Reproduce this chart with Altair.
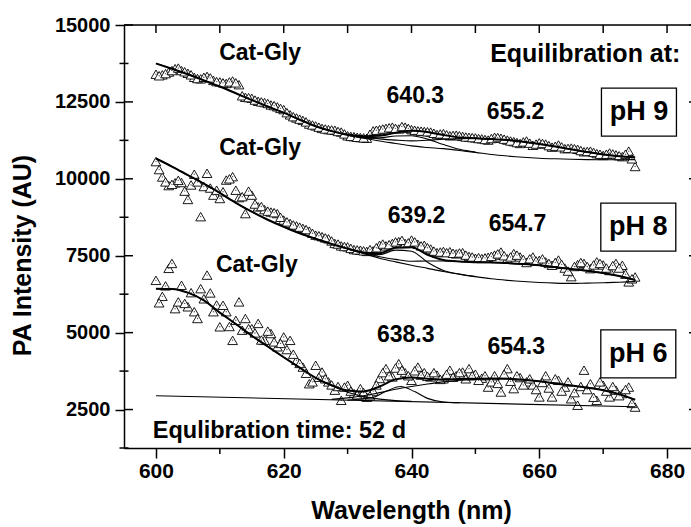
import altair as alt
import pandas as pd

# ---------------- data ----------------
WL = list(range(600, 676))                 # whole-nm points
WL_H = [w + 0.5 for w in range(600, 675)]  # half-nm points

PH9 = [13400, 13380, 13470, 13580, 13520, 13430, 13300, 13250, 13330, 13200,
       13150, 13100, 13180, 13060, 12650, 12620, 12520, 12480, 12400, 12340,
       12250, 12080, 11980, 11900, 11780, 11720, 11640, 11600, 11580, 11520,
       11400, 11370, 11340, 11320, 11560, 11600, 11640, 11680, 11620, 11680,
       11600, 11560, 11540, 11520, 11440, 11470, 11400, 11420, 11380, 11350,
       11330, 11300, 11260, 11350, 11320, 11260, 11210, 11150, 11230, 11090,
       11170, 11130, 11030, 11100, 10980, 11000, 10960, 10880, 10900, 10820,
       10760, 10840, 10780, 10720, 10900, 10400]
PH9_H = [13350, 13420, 13520, 13600, 13480, 13380, 13260, 13300, 13280, 13160,
         13120, 13150, 13120, 12700, 12640, 12560, 12500, 12450, 12380, 12290,
         12150, 12020, 11940, 11850, 11750, 11680, 11620, 11590, 11540, 11460,
         11380, 11350, 11330, 11450, 11580, 11620, 11660, 11640, 11700, 11640,
         11580, 11550, 11530, 11480, 11460, 11430, 11410, 11400, 11360, 11340,
         11310, 11280, 11310, 11340, 11290, 11230, 11180, 11200, 11160, 11130,
         11150, 11080, 11060, 11040, 10990, 10980, 10920, 10890, 10860, 10800,
         10800, 10810, 10750, 10800, 10650]

PH8 = [10560, 10060, 9780, 9870, 9880, 9330, 10150, 8770, 10180, 9470,
       9360, 9960, 10070, 9390, 8870, 9470, 9090, 9000, 8920, 8870,
       8660, 8550, 8470, 8390, 8300, 8170, 8120, 8050, 7900, 7820,
       7790, 7700, 7680, 7640, 7660, 7840, 7820, 7900, 7960, 7900,
       8010, 7870, 7840, 7720, 7600, 7640, 7630, 7560, 7600, 7480,
       7420, 7410, 7450, 7520, 7620, 7400, 7570, 7460, 7280, 7460,
       7350, 7300, 7190, 7360, 7100, 6820, 7210, 7250, 7080, 7300,
       7200, 7020, 7250, 7190, 6650, 6810]
PH8_H = [10300, 9900, 9820, 9950, 9600, 9800, 9900, 9750, 9700, 9630,
         9580, 10000, 9630, 9420, 9600, 9180, 9100, 8950, 8900, 8750,
         8600, 8500, 8430, 8350, 8230, 8150, 8080, 7980, 7880, 7800,
         7740, 7690, 7660, 7700, 7760, 7880, 7860, 7950, 8000, 7920,
         7950, 7820, 7760, 7650, 7620, 7600, 7580, 7590, 7520, 7460,
         7440, 7430, 7480, 7560, 7500, 7460, 7520, 7380, 7400, 7330,
         7400, 7250, 7280, 7220, 7000, 7150, 7280, 7150, 7200, 7250,
         7100, 7180, 7100, 6900, 6750]

PH6 = [6700, 6180, 7090, 5780, 6540, 5840, 5680, 6430, 6870, 5680,
       5190, 5680, 4750, 6000, 5460, 5130, 5300, 4750, 4970, 4540,
       4860, 4750, 4100, 3880, 3340, 3940, 3720, 3400, 3130, 2800,
       3290, 3020, 3180, 2900, 3100, 3510, 3830, 3560, 3990, 3700,
       3450, 3880, 3700, 3560, 3620, 3500, 3780, 3600, 3720, 3830,
       3650, 3520, 3230, 3600, 3070, 3830, 3180, 3540, 3400, 3300,
       2910, 3600, 2910, 3450, 3230, 2850, 2640, 3780, 3340, 2800,
       3290, 2910, 3130, 3020, 3230, 2580]
PH6_H = [5970, 6520, 7250, 6000, 5950, 6300, 5460, 6100, 6290, 5900,
         5890, 5200, 5400, 5080, 5130, 4990, 4760, 5050, 4700, 4650,
         4450, 4300, 4000, 3680, 3400, 3550, 3500, 3300, 3250, 3230,
         3100, 2980, 3050, 2950, 3300, 3700, 3600, 3850, 3780, 3600,
         3760, 3620, 3580, 3700, 3480, 3650, 3550, 3700, 3500, 3600,
         3450, 3600, 3400, 3350, 3650, 3420, 3600, 3300, 3500, 3150,
         3380, 3200, 3500, 3100, 3400, 3050, 3250, 3150, 2900, 3400,
         3100, 3250, 2950, 3150, 2700]

GRID = [600, 602.5, 605, 607.5, 610, 612.5, 615, 617.5, 620, 622.5, 625, 627.5,
        630, 632.5, 635, 637.5, 640, 642.5, 645, 647.5, 650, 652.5, 655, 657.5,
        660, 662.5, 665, 667.5, 670, 672.5, 675]
GRID_C = GRID[12:]          # 630 ... 675
GRID_P1 = GRID[12:21]       # 630 ... 650

FIT9 = [13750, 13580, 13400, 13200, 13000, 12780, 12560, 12350, 12150, 11920,
        11710, 11550, 11440, 11387, 11403, 11498, 11564, 11523, 11423, 11347,
        11321, 11291, 11260, 11206, 11133, 11048, 10957, 10869, 10794, 10736, 10698]
BG9 = [11414, 11320, 11230, 11150, 11070, 11020, 10980, 10920, 10860, 10790,
       10740, 10700, 10670, 10650, 10635, 10625, 10620, 10620, 10625]
P1_9 = [11418, 11348, 11335, 11390, 11400, 11291, 11114, 10960, 10867]
P2_9 = [11436, 11359, 11298, 11258, 11234, 11252, 11289, 11307, 11314, 11291,
        11260, 11206, 11133, 11048, 10957, 10869, 10794, 10736, 10698]

FIT8 = [10660, 10400, 10120, 9840, 9540, 9220, 8930, 8670, 8440, 8230,
        8050, 7880, 7730, 7608, 7582, 7761, 7776, 7531, 7363, 7312,
        7290, 7280, 7260, 7230, 7190, 7130, 7070, 7010, 6940, 6840, 6710]
BG8 = [7720, 7570, 7420, 7300, 7190, 7090, 6990, 6900, 6820, 6750,
       6700, 6660, 6630, 6610, 6600, 6610, 6620, 6640, 6660]
P1_8 = [7720, 7583, 7537, 7681, 7646, 7291, 7023, 6902, 6820]
P2_8 = [7730, 7595, 7465, 7380, 7320, 7330, 7330, 7310, 7290, 7280,
        7260, 7230, 7190, 7130, 7070, 7010, 6940, 6840, 6710]

FIT6 = [6430, 6420, 6300, 6050, 5650, 5280, 4900, 4550, 4200, 3860,
        3530, 3290, 3120, 3090, 3250, 3480, 3540, 3500, 3470, 3490,
        3500, 3510, 3500, 3470, 3420, 3350, 3280, 3210, 3130, 3000, 2820]
CAT6_X = [627.5, 630, 632.5, 635, 637.5, 640]
CAT6 = [3270, 3060, 2920, 2840, 2790, 2765]
BASE6_X = [600, 675]
BASE6 = [2950, 2590]
P1_6_X = [630, 634, 636, 638.3, 640.5, 642.5, 645, 647.5]
P1_6 = [2806, 2897, 3092, 3247, 3083, 2863, 2747, 2722]
P2_6_X = [627.5, 630, 632.5, 635, 637.5, 640, 642.5, 645, 647.5, 650,
          652.5, 655, 657.5, 660, 662.5, 665, 667.5, 670, 672.5, 675]
P2_6 = [2830, 2880, 2950, 3050, 3160, 3250, 3330, 3400, 3450, 3480,
        3500, 3500, 3470, 3420, 3350, 3280, 3210, 3130, 3000, 2820]

ANN_TEXT = ["Cat-Gly", "Cat-Gly", "Cat-Gly", "640.3", "655.2", "639.2", "654.7", "638.3", "654.3"]
ANN_X = [616.3, 616.3, 615.8, 640.6, 656.3, 640.8, 656.6, 639.1, 656.4]
ANN_Y = [14089, 11015, 7193, 12697, 12180, 8797, 8526, 4916, 4535]

PH_TEXT = ["pH 9", "pH 8", "pH 6"]
PH_X = [675.6, 675.5, 675.5]
PH_Y = [12170, 8430, 4307]

X_TICKS = [600, 620, 640, 660, 680]
X_MINOR = [610, 630, 650, 670]
X_ALL = [600, 610, 620, 630, 640, 650, 660, 670, 680]
Y_TICKS = [2500, 5000, 7500, 10000, 12500, 15000]
Y_MINOR = [1250, 3750, 6250, 8750, 11250, 13750]

# ---------------- tables ----------------
pts = pd.concat([
    pd.DataFrame({"wl": WL, "pa": PH9, "s": "pH 9"}),
    pd.DataFrame({"wl": WL_H, "pa": PH9_H, "s": "pH 9"}),
    pd.DataFrame({"wl": WL, "pa": PH8, "s": "pH 8"}),
    pd.DataFrame({"wl": WL_H, "pa": PH8_H, "s": "pH 8"}),
    pd.DataFrame({"wl": WL, "pa": PH6, "s": "pH 6"}),
    pd.DataFrame({"wl": WL_H, "pa": PH6_H, "s": "pH 6"}),
])


def ldf(name, xs_, ys_):
    return pd.DataFrame({"wl": xs_, "pa": ys_, "id": name})


thick = pd.concat([ldf("fit9", GRID, FIT9), ldf("fit8", GRID, FIT8), ldf("fit6", GRID, FIT6)])
thin = pd.concat([
    ldf("bg9", GRID[:12] + GRID_C, FIT9[:12] + BG9),
    ldf("p1_9", GRID_P1, P1_9),
    ldf("p2_9", GRID_C, P2_9),
    ldf("bg8", GRID[:12] + GRID_C, FIT8[:12] + BG8),
    ldf("p1_8", GRID_P1, P1_8),
    ldf("p2_8", GRID_C, P2_8),
    ldf("cat6", GRID[:11] + CAT6_X, FIT6[:11] + CAT6),
    ldf("base6", BASE6_X, BASE6),
    ldf("p1_6", P1_6_X, P1_6),
    ldf("p2_6", P2_6_X, P2_6),
])

ann = pd.DataFrame({"t": ANN_TEXT, "x": ANN_X, "y": ANN_Y})
phs = pd.DataFrame({"t": PH_TEXT, "x": PH_X, "y": PH_Y})

FONT = "Liberation Sans"
W, H = 567, 423
XR = 575

xs = alt.Scale(domain=[595, 685], range=[0, XR], nice=False, zero=False)
ys = alt.Scale(domain=[1250, 15000], nice=False, zero=False)

x_axis = alt.Axis(values=X_TICKS, format="d", title="Wavelength (nm)", grid=False,
                  tickSize=10, tickWidth=1.5, tickColor="black",
                  domainColor="black", domainWidth=1.5,
                  labelFont=FONT, labelFontSize=21, labelFontWeight="bold", labelColor="black",
                  labelPadding=2, labelFlush=False,
                  titleFont=FONT, titleFontSize=25, titleFontWeight="bold", titleColor="black",
                  titleX=287, titleY=70, titleBaseline="alphabetic", titleAlign="center")
y_axis = alt.Axis(values=Y_TICKS, format="d", title="PA Intensity (AU)", grid=False,
                  tickSize=9, tickWidth=1.5, tickColor="black",
                  domainColor="black", domainWidth=1.5,
                  labelFont=FONT, labelFontSize=20, labelFontWeight="bold", labelColor="black",
                  labelPadding=5, labelFlush=False,
                  titleFont=FONT, titleFontSize=25, titleFontWeight="bold", titleColor="black",
                  titleX=-94, titleY=230, titleBaseline="alphabetic", titleAlign="center",
                  titleAngle=270)


def X(field):
    return alt.X(field, scale=xs, axis=x_axis, title="Wavelength (nm)")


def Y(field):
    return alt.Y(field, scale=ys, axis=y_axis, title="PA Intensity (AU)")


points = alt.Chart(pts).mark_point(shape="triangle-up", filled=True, fill="white",
                                    stroke="black", strokeWidth=0.9, size=95, opacity=1).encode(
    x=X("wl:Q"), y=Y("pa:Q"))
dots = alt.Chart(pts).mark_point(shape="circle", filled=True, color="#555555", size=2,
                                  opacity=1).encode(x=X("wl:Q"), y=Y("pa:Q"))

thin_l = alt.Chart(thin).mark_line(color="black", strokeWidth=1.1, interpolate="monotone").encode(
    x=X("wl:Q"), y=Y("pa:Q"), detail="id:N")
thick_l = alt.Chart(thick).mark_line(color="black", strokeWidth=2, interpolate="monotone").encode(
    x=X("wl:Q"), y=Y("pa:Q"), detail="id:N")

# frame / tick decorations
ymaj = pd.DataFrame({"v": Y_TICKS})
ymin = pd.DataFrame({"v": Y_MINOR})
xall = pd.DataFrame({"v": X_ALL})
xmin = pd.DataFrame({"v": X_MINOR})
one = pd.DataFrame({"v": [0]})

rule = dict(color="black", strokeWidth=1.5)
left_in = alt.Chart(ymaj).mark_rule(**rule).encode(
    y=Y("v:Q"), x=alt.value(0), x2=alt.value(9))
left_minor = alt.Chart(ymin).mark_rule(**rule).encode(
    y=Y("v:Q"), x=alt.value(-4.5), x2=alt.value(4.5))
right_maj = alt.Chart(ymaj).mark_rule(**rule).encode(
    y=Y("v:Q"), x=alt.value(XR), x2=alt.value(XR - 10))
right_min = alt.Chart(ymin).mark_rule(**rule).encode(
    y=Y("v:Q"), x=alt.value(XR), x2=alt.value(XR - 5))
top_ticks = alt.Chart(xall).mark_rule(**rule).encode(
    x=X("v:Q"), y=alt.value(0), y2=alt.value(8))
bottom_minor = alt.Chart(xmin).mark_rule(**rule).encode(
    x=X("v:Q"), y=alt.value(H), y2=alt.value(H + 6))
top_line = alt.Chart(one).mark_rule(**rule).encode(
    x=alt.value(0), x2=alt.value(XR), y=alt.value(0))

ann_l = alt.Chart(ann).mark_text(font=FONT, fontSize=23, fontWeight="bold", color="black",
                                 align="center", baseline="middle").encode(
    x=X("x:Q"), y=Y("y:Q"), text="t:N")

eq_at = alt.Chart(pd.DataFrame({"t": ["Equilibration at:"], "x": [667.2], "y": [14056]})).mark_text(
    font=FONT, fontSize=25, fontWeight="bold", color="black", align="center", baseline="middle").encode(
    x=X("x:Q"), y=Y("y:Q"), text="t:N")

eq_time = alt.Chart(pd.DataFrame({"t": ["Equlibration time: 52 d"], "x": [599.5], "y": [1793]})).mark_text(
    font=FONT, fontSize=23.5, fontWeight="bold", color="black", align="left", baseline="middle").encode(
    x=X("x:Q"), y=Y("y:Q"), text="t:N")

boxes = alt.Chart(phs).mark_rect(width=75, height=48, fill="white", stroke="black", strokeWidth=1.3).encode(
    x=X("x:Q"), y=Y("y:Q"))

ph_l = alt.Chart(phs).mark_text(font=FONT, fontSize=27, fontWeight="bold", color="black",
                                align="center", baseline="middle").encode(
    x=X("x:Q"), y=Y("y:Q"), text="t:N")

chart = alt.layer(
    points, dots, thin_l, thick_l,
    left_in, left_minor, right_maj, right_min, top_ticks, bottom_minor, top_line,
    ann_l, eq_at, eq_time, boxes, ph_l,
).properties(
    width=W, height=H,
    autosize=alt.AutoSizeParams(type="none"),
    padding={"left": 124, "top": 25, "right": 0, "bottom": 79},
).configure_view(stroke=None).configure(background="white")

chart.save("out.html", embed_options={"renderer": "svg", "actions": False})
